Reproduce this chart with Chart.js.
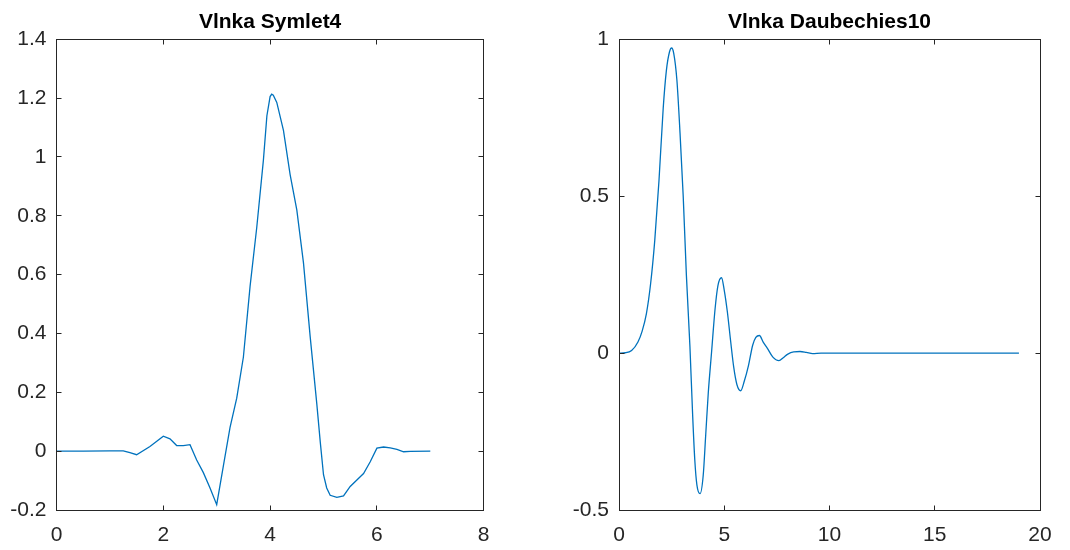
<!DOCTYPE html>
<html>
<head>
<meta charset="utf-8">
<script src="https://cdn.jsdelivr.net/npm/chart.js@4.4.1/dist/chart.umd.min.js"></script>
<style>
html, body { margin: 0; padding: 0; background: #fff; }
#wrap { position: relative; width: 1070px; height: 550px; }
#wrap canvas { position: absolute; top: 0; }
</style>
</head>
<body>
<div id="wrap">
    <canvas id="symChart" width="540" height="550" style="left:0"></canvas>
    <canvas id="dbChart" width="530" height="550" style="left:540px"></canvas>
</div>
<script>
// Vlnka Symlet4
const symX = [0, 0.5, 1.0, 1.25, 1.375, 1.5, 1.75, 2.0, 2.125, 2.25, 2.375, 2.5, 2.625, 2.75, 2.875, 3.0,
    3.125, 3.25, 3.375, 3.5, 3.625, 3.75, 3.875, 3.94, 4.0, 4.03, 4.06, 4.125, 4.25, 4.375, 4.5, 4.625,
    4.75, 4.875, 4.94, 5.0, 5.06, 5.125, 5.25, 5.375, 5.5, 5.625, 5.75, 5.875, 6.0, 6.125, 6.25, 6.375,
    6.5, 6.625, 7.0];
const symY = [0, 0, 0.001, 0.001, -0.005, -0.012, 0.016, 0.051, 0.042, 0.019, 0.019, 0.022, -0.03, -0.073, -0.125, -0.182,
    -0.05, 0.081, 0.18, 0.32, 0.56, 0.76, 0.99, 1.14, 1.205, 1.213, 1.21, 1.185, 1.09, 0.94, 0.82, 0.64,
    0.39, 0.16, 0.03, -0.08, -0.125, -0.15, -0.157, -0.152, -0.12, -0.098, -0.076, -0.036, 0.01, 0.014, 0.011, 0.006,
    -0.002, -0.001, 0];

// Vlnka Daubechies10
const dbX = [0, 0.3, 0.6, 0.9, 1.1, 1.3, 1.5, 1.7, 1.9, 2.1, 2.25, 2.4, 2.5, 2.6, 2.75, 2.9, 3.05, 3.2, 3.37,
    3.5, 3.6, 3.7, 3.85, 4.0, 4.12, 4.24, 4.4, 4.56, 4.7, 4.87, 5.0, 5.15, 5.3, 5.45, 5.6, 5.78, 5.95,
    6.15, 6.35, 6.5, 6.67, 6.85, 7.05, 7.3, 7.6, 7.8, 8.0, 8.3, 8.6, 8.9, 9.2, 9.6, 19];
const dbY = [0, 0.001, 0.008, 0.035, 0.07, 0.125, 0.22, 0.36, 0.55, 0.78, 0.9, 0.96, 0.972, 0.955, 0.87, 0.7, 0.5, 0.25, 0.02,
    -0.2, -0.34, -0.42, -0.448, -0.39, -0.26, -0.128, 0.005, 0.138, 0.215, 0.24, 0.2, 0.13, 0.04, -0.045, -0.1, -0.12, -0.09,
    -0.04, 0.025, 0.05, 0.056, 0.035, 0.015, -0.012, -0.024, -0.015, -0.004, 0.004, 0.005, 0.002, -0.002, 0, 0];

const symXTicks = [0, 2, 4, 6, 8];
const symYTicks = [-0.2, 0, 0.2, 0.4, 0.6, 0.8, 1, 1.2, 1.4];
const dbXTicks = [0, 5, 10, 15, 20];
const dbYTicks = [-0.5, 0, 0.5, 1];

const FONT = "'Liberation Sans', Arial, Helvetica, sans-serif";
const AXIS_COLOR = '#262626';
const LINE_COLOR = '#0072BD';

// rámeček kolem grafu a dovnitř směřující značky jako v MATLABu
const boxPlugin = {
    id: 'boxTicks',
    afterDraw(chart) {
        const { ctx, chartArea: a, scales: { x, y } } = chart;
        const L = Math.floor(a.left) + 0.5, R = Math.floor(a.right) + 0.5;
        const T = Math.floor(a.top) + 0.5, B = Math.floor(a.bottom) + 0.5;
        const len = 5;
        ctx.save();
        ctx.strokeStyle = AXIS_COLOR;
        ctx.lineWidth = 1;
        ctx.strokeRect(L, T, R - L, B - T);
        ctx.beginPath();
        x.ticks.forEach(t => {
            const px = Math.floor(x.getPixelForValue(t.value)) + 0.5;
            ctx.moveTo(px, B); ctx.lineTo(px, B - len);
            ctx.moveTo(px, T); ctx.lineTo(px, T + len);
        });
        y.ticks.forEach(t => {
            const py = Math.floor(y.getPixelForValue(t.value)) + 0.5;
            ctx.moveTo(L, py); ctx.lineTo(L + len, py);
            ctx.moveTo(R, py); ctx.lineTo(R - len, py);
        });
        ctx.stroke();
        ctx.restore();
    }
};

function fmt(v) {
    return String(Math.round(v * 100) / 100);
}

function makeChart(id, title, xs, ys, xTicks, yTicks, yWidth, padRight, smooth) {
    const points = xs.map((v, i) => ({ x: v, y: ys[i] }));
    return new Chart(document.getElementById(id), {
        type: 'line',
        data: {
            datasets: [{
                data: points,
                borderColor: LINE_COLOR,
                borderWidth: 1.3,
                pointRadius: 0,
                tension: 0,
                cubicInterpolationMode: smooth ? 'monotone' : 'default',
                fill: false
            }]
        },
        options: {
            responsive: false,
            animation: false,
            events: [],
            layout: { padding: { left: 0, right: padRight, top: 0, bottom: 0 } },
            plugins: {
                legend: { display: false },
                tooltip: { enabled: false },
                title: {
                    display: true,
                    fullSize: false,
                    text: title,
                    color: '#000',
                    font: { family: FONT, size: 21, weight: 'bold' },
                    padding: { top: 10, bottom: 4 }
                }
            },
            scales: {
                x: {
                    type: 'linear',
                    min: xTicks[0],
                    max: xTicks[xTicks.length - 1],
                    grid: { display: false, drawTicks: false },
                    border: { display: false },
                    afterBuildTicks: s => { s.ticks = xTicks.map(v => ({ value: v })); },
                    afterFit: s => { s.height = 40; s.paddingLeft = 0; s.paddingRight = 0; },
                    ticks: {
                        color: AXIS_COLOR,
                        font: { family: FONT, size: 21 },
                        padding: 13,
                        maxRotation: 0,
                        autoSkip: false,
                        callback: fmt
                    }
                },
                y: {
                    type: 'linear',
                    min: yTicks[0],
                    max: yTicks[yTicks.length - 1],
                    grid: { display: false, drawTicks: false },
                    border: { display: false },
                    afterBuildTicks: s => { s.ticks = yTicks.map(v => ({ value: v })); },
                    afterFit: s => { s.width = yWidth; s.paddingTop = 0; s.paddingBottom = 0; },
                    ticks: {
                        color: AXIS_COLOR,
                        font: { family: FONT, size: 21 },
                        padding: 10,
                        autoSkip: false,
                        callback: fmt
                    }
                }
            }
        },
        plugins: [boxPlugin]
    });
}

makeChart('symChart', 'Vlnka Symlet4', symX, symY, symXTicks, symYTicks, 56.5, 56.3, false);
makeChart('dbChart', 'Vlnka Daubechies10', dbX, dbY, dbXTicks, dbYTicks, 79, 30, true);
</script>
</body>
</html>
